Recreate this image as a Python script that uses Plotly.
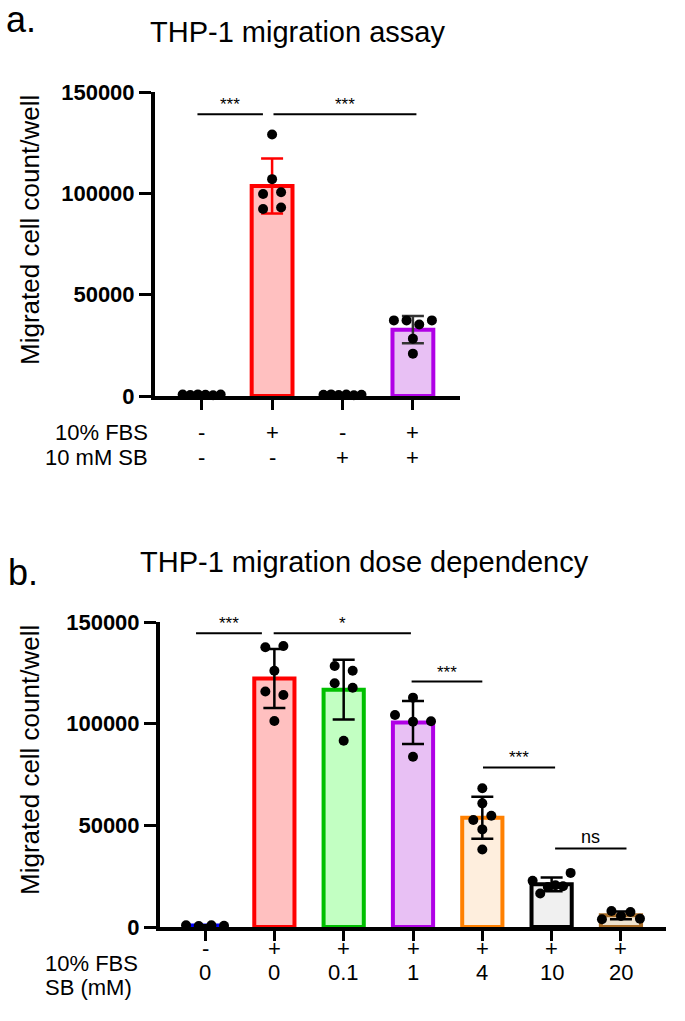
import numpy as np
import plotly.graph_objects as go

W, H = 685, 1021

# ---------------- data ----------------
# Panel a: THP-1 migration assay
a_fbs = ["-", "+", "-", "+"]
a_sb = ["-", "-", "+", "+"]
a_points = [
    [700, 500, 800, 600, 400, 700],
    [129000, 107000, 99700, 100500, 92300, 93000],
    [600, 800, 500, 700, 400, 600],
    [37300, 37300, 35300, 37300, 28300, 20900],
]
a_edge = ["#0000FF", "#FF0000", "#00C800", "#B000E6"]
a_fill = ["#C8C8FF", "#FFC0C0", "#C0FFC0", "#E8C0F4"]
a_errc = ["#000000", "#FF0000", "#000000", "#333333"]
# comparisons: (start, end, label, level)
a_sig = [(-0.06, 0.87, "***", 139000), (1.02, 3.05, "***", 139000)]

# Panel b: dose dependency
b_fbs = ["-", "+", "+", "+", "+", "+", "+"]
b_sb = ["0", "0", "0.1", "1", "4", "10", "20"]
b_points = [
    [800, 500, 900, 600],
    [137600, 138200, 126000, 115800, 114100, 101300],
    [128400, 126000, 119900, 117700, 91600],
    [112800, 104300, 101000, 101200, 83700],
    [68200, 60800, 52600, 54700, 48000, 38100],
    [22700, 16500, 19700, 20500, 20000, 26600],
    [3800, 7900, 5400, 7400, 4100],
]
b_edge = ["#0000FF", "#FF0000", "#00C000", "#B000E6", "#FF8000", "#000000", "#A86D28"]
b_fill = ["#C8C8FF", "#FFC0C0", "#C2FFC2", "#E8C0F4", "#FEEEDD", "#F0F0F0", "#EFE3CF"]
b_sig = [(-0.13, 0.82, "***", 144500), (0.99, 2.97, "*", 144500),
         (2.98, 4.0, "***", 120700), (4.01, 5.05, "***", 78500),
         (5.05, 6.08, "ns", 38600)]

yticks = [0, 50000, 100000, 150000]

# ---------------- layout geometry (px) ----------------
A = dict(x0=155, x1=460, y0=92, y1=396, xr=[-0.663, 3.669])
B = dict(x0=160, x1=666, y0=622, y1=927, xr=[-0.65, 6.65])

fx = lambda px: px / W
fy = lambda py: 1 - py / H

FONT = "Arial, Liberation Sans, Helvetica, sans-serif"


def swarm(vals, geo, dot=10, spacing=18, maxw=38, thr=9):
    vals = np.asarray(vals, float)
    py_per = (geo["y1"] - geo["y0"]) / 150000.0
    px_per = (geo["x1"] - geo["x0"]) / (geo["xr"][1] - geo["xr"][0])
    order = np.argsort(-vals, kind="stable")
    groups = []
    for idx in order:
        if groups and abs(vals[groups[-1][-1]] - vals[idx]) * py_per < thr:
            groups[-1].append(idx)
        else:
            groups.append([idx])
    off = np.zeros(len(vals))
    for g in groups:
        g = sorted(g)
        n = len(g)
        s = min(spacing, maxw / (n - 1)) if n > 1 else 0
        for k, i in enumerate(g):
            off[i] = (k - (n - 1) / 2) * s / px_per
    return off


fig = go.Figure()


def add_panel(points, edges, fills, errc, geo, xa, ya):
    for i, pts in enumerate(points):
        pts = np.asarray(pts, float)
        m, sd = pts.mean(), pts.std(ddof=1)
        fig.add_trace(go.Bar(
            x=[i], y=[m], width=0.58, xaxis=xa, yaxis=ya,
            marker=dict(color=fills[i], line=dict(color=edges[i], width=4)),
            error_y=dict(type="data", array=[sd], color=errc[i], thickness=2.5, width=11),
            hoverinfo="skip"))
    for i, pts in enumerate(points):
        off = swarm(pts, geo)
        fig.add_trace(go.Scatter(
            x=i + off, y=pts, mode="markers", xaxis=xa, yaxis=ya,
            marker=dict(color="black", size=10), cliponaxis=False, hoverinfo="skip"))


add_panel(a_points, a_edge, a_fill, a_errc, A, "x", "y")
add_panel(b_points, b_edge, b_fill, ["#000000"] * 7, B, "x2", "y2")

axis_common = dict(showline=True, linewidth=4, linecolor="black", ticks="outside",
                   tickwidth=3, tickcolor="black", showgrid=False, zeroline=False,
                   fixedrange=True, automargin=False)

fig.update_layout(
    width=W, height=H, margin=dict(l=0, r=0, t=0, b=0, pad=0), autosize=False,
    paper_bgcolor="white", plot_bgcolor="white", showlegend=False,
    barmode="overlay", font=dict(family=FONT, color="black"),
    xaxis=dict(domain=[fx(A["x0"]), fx(A["x1"])], range=A["xr"], tickvals=list(range(4)),
               showticklabels=False, ticklen=10, anchor="y", **axis_common),
    yaxis=dict(domain=[fy(A["y1"]), fy(A["y0"])], range=[0, 150000], tickvals=yticks,
               ticktext=[str(v) for v in yticks], ticklen=12, anchor="x",
               tickfont=dict(size=22, weight="bold", family=FONT), **axis_common),
    xaxis2=dict(domain=[fx(B["x0"]), fx(B["x1"])], range=B["xr"], tickvals=list(range(7)),
                showticklabels=False, ticklen=10, anchor="y2", **axis_common),
    yaxis2=dict(domain=[fy(B["y1"]), fy(B["y0"])], range=[0, 150000], tickvals=yticks,
                ticktext=[str(v) for v in yticks], ticklen=12, anchor="x2",
                tickfont=dict(size=22, weight="bold", family=FONT), **axis_common),
)

ann = []
shapes = []


def txt(text, x, y, size, xanchor="center", angle=0, xref="paper", yref="paper", yanchor="middle"):
    ann.append(dict(text=text, x=x, y=y, xref=xref, yref=yref, showarrow=False,
                    xanchor=xanchor, yanchor=yanchor, textangle=angle,
                    font=dict(size=size, family=FONT, color="black")))


# titles and panel letters
txt("a.", fx(4), fy(20), 36, xanchor="left")
txt("THP-1 migration assay", fx(297), fy(32), 29)
txt("b.", fx(6), fy(572), 36, xanchor="left")
txt("THP-1 migration dose dependency", fx(364), fy(562), 29)

# y titles
txt("Migrated cell count/well", fx(30), fy(230), 26, angle=-90)
txt("Migrated cell count/well", fx(30), fy(760), 26, angle=-90)

# row labels panel a
txt("10% FBS", fx(150), fy(433), 22, xanchor="right")
txt("10 mM SB", fx(150), fy(457), 22, xanchor="right")
for i in range(4):
    ann.append(dict(text=a_fbs[i], x=i, y=fy(433), xref="x", yref="paper", showarrow=False,
                    font=dict(size=22, family=FONT)))
    ann.append(dict(text=a_sb[i], x=i, y=fy(457), xref="x", yref="paper", showarrow=False,
                    font=dict(size=22, family=FONT)))

# row labels panel b
txt("10% FBS", fx(43), fy(963), 22, xanchor="left")
txt("SB (mM)", fx(43), fy(987), 22, xanchor="left")
for i in range(7):
    ann.append(dict(text=b_fbs[i], x=i, y=fy(963), xref="x2", yref="paper", showarrow=False,
                    font=dict(size=22, family=FONT)))
    ann.append(dict(text=b_sb[i], x=i, y=fy(987), xref="x2", yref="paper", showarrow=False,
                    font=dict(size=22, family=FONT)))

# significance bars
for sig, xa, ya in [(a_sig, "x", "y"), (b_sig, "x2", "y2")]:
    for x0, x1, lab, lev in sig:
        shapes.append(dict(type="line", xref=xa, yref=ya, x0=x0, x1=x1, y0=lev, y1=lev,
                           line=dict(color="black", width=2)))
        ann.append(dict(text=lab, x=(x0 + x1) / 2, y=lev, xref=xa, yref=ya, showarrow=False,
                        yanchor="bottom", yshift=-2 if lab != "ns" else 0,
                        font=dict(size=17 if lab != "ns" else 18, family=FONT)))

fig.update_layout(annotations=ann, shapes=shapes)
fig.write_html("out.html", config={"displayModeBar": False, "staticPlot": True},
               post_script="document.body.style.margin='0';document.body.style.overflow='hidden';")
